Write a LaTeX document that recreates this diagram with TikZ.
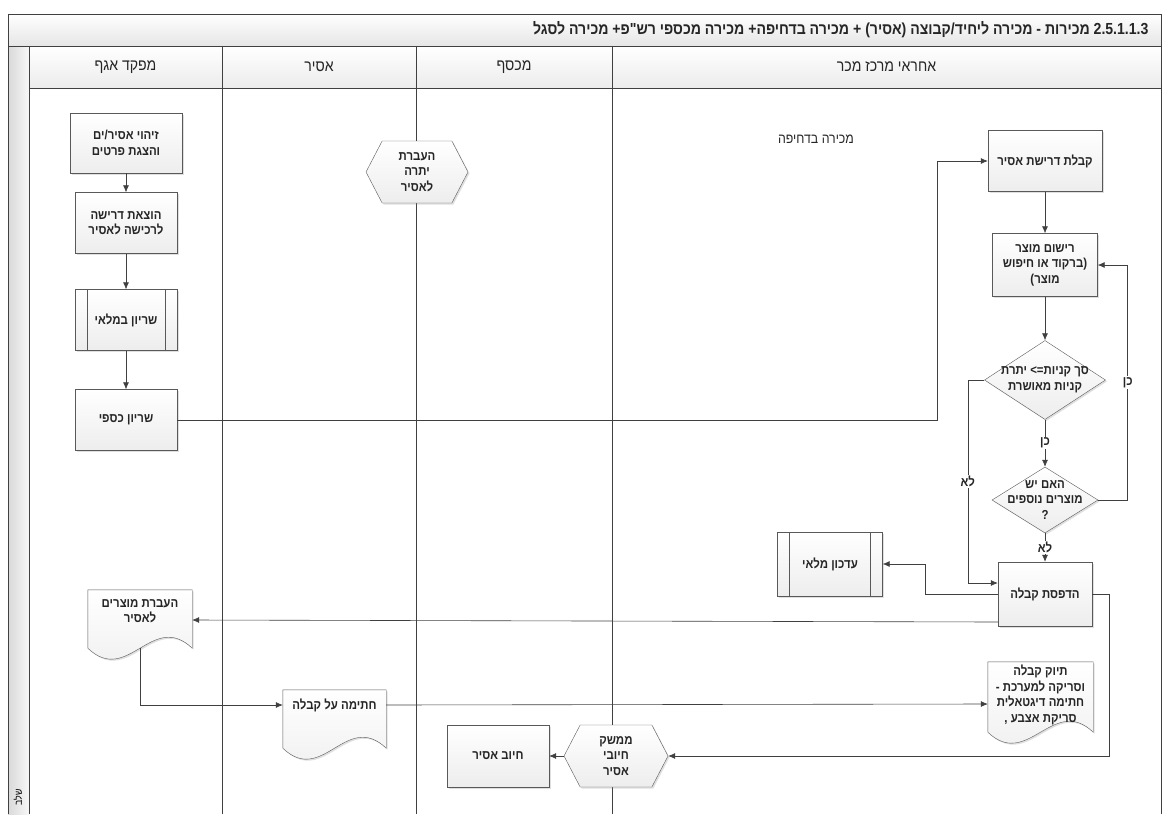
\documentclass[tikz,border=0pt]{standalone}
\usepackage{fontspec}
\setmainfont{Liberation Sans}
\newfontfamily\hebfont[Script=Hebrew,FakeStretch=0.88]{Liberation Sans}
\TeXXeTstate=1
\usetikzlibrary{shapes.geometric,shapes.symbols,arrows.meta,shadows,backgrounds}
\newcommand{\rl}[1]{\beginR #1\endR}
\newcommand{\boxfont}{\hebfont\bfseries\fontsize{13}{15.5}\selectfont}

\begin{document}
\begin{tikzpicture}[
	x=1pt, y=-1pt,
	frame/.style={ draw=black!75, line width=0.6pt },
	proc/.style={ rectangle, draw=gray!70!black, top color=white, bottom color=gray!14, drop shadow={opacity=0.25,shadow xshift=1.5pt,shadow yshift=-1.5pt}, minimum width=102pt, minimum height=61pt, inner sep=2pt, align=center, font=\boxfont, text=black!85 },
	predef/.style={ proc, path picture={ \draw[gray!70!black] ([xshift=12pt]path picture bounding box.north west) -- ([xshift=12pt]path picture bounding box.south west) ([xshift=-12pt]path picture bounding box.north east) -- ([xshift=-12pt]path picture bounding box.south east); } },
	hexa/.style={ signal, signal to=west and east, signal pointer angle=125, draw=gray!70!black, top color=white, bottom color=gray!14, drop shadow={opacity=0.25,shadow xshift=1.5pt,shadow yshift=-1.5pt}, minimum width=102pt, minimum height=62pt, inner sep=1pt, align=center, font=\boxfont, text=black!85 },
	cond/.style={ diamond, draw=gray!70!black, top color=white, bottom color=gray!14, drop shadow={opacity=0.25,shadow xshift=1.5pt,shadow yshift=-1.5pt}, inner sep=0pt },
	condtxt/.style={ align=center, font=\boxfont, text=black!85, inner sep=0pt },
	doc/.style={ minimum width=103pt, inner sep=1pt, align=center, font=\boxfont, text=black!85 },
	docline/.style={ draw=gray!70!black, top color=white, bottom color=gray!14, drop shadow={opacity=0.25,shadow xshift=1.5pt,shadow yshift=-1.5pt} },
	flow/.style={ draw=black!75, line width=0.6pt, -{Latex[length=7pt,width=6pt]} },
	lbl/.style={ fill=white, inner sep=1pt, font=\boxfont, text=black!85 },
	lane/.style={ font=\hebfont\fontsize{16}{18}\selectfont, text=black!85 }
]
\useasboundingbox (0,0) rectangle (1162,814);

\fill[top color=white, bottom color=gray!20] (8,14) rectangle (1161,46);
\fill[top color=white, bottom color=gray!15] (29,46) rectangle (1161,88);
\fill[left color=gray!30, right color=gray!6] (8,46) rectangle (29,814);
\draw[frame] (8,814) -- (8,14) -- (1161,14) -- (1161,814);
\draw[frame] (8,46) -- (1161,46);
\draw[frame] (29,88) -- (1161,88);
\foreach \x in {29,222,416,612} \draw[frame] (\x,46) -- (\x,814);

\node at (1152,30) (ttl) [anchor=east, font=\hebfont\bfseries\fontsize{16}{18}\selectfont, text=black!85] {\rl{\beginL 2.5.1.1.3\endL{} מכירות - מכירה ליחיד/קבוצה (אסיר) + מכירה בדחיפה+ מכירה מכספי רש"פ+ מכירה לסגל}};
\node at (125.5,67) (hq) [lane] {\rl{מפקד אגף}};
\node at (319,67) (hpr) [lane] {\rl{אסיר}};
\node at (514,67) (hcn) [lane] {\rl{מכסף}};
\node at (886.5,67) (hsh) [lane] {\rl{אחראי מרכז מכר}};
\node at (18,797) (phs) [rotate=90, font=\hebfont\fontsize{10}{12}\selectfont] {\rl{שלב}};

\node at (816,139) (urg) [font=\hebfont\fontsize{14}{16}\selectfont, text=black!85] {\rl{מכירה בדחיפה}};

\node at (126,143) (n1) [proc, minimum width=112pt, minimum height=60pt] {\rl{זיהוי אסיר/ים}\\\rl{והצגת פרטים}};

\node at (126,223) (n2) [proc] {\rl{הוצאת דרישה}\\\rl{לרכישה לאסיר}};
\draw[flow] (n1) to (n2);

\node at (126,320) (n3) [predef] {\rl{שריון במלאי}};
\draw[flow] (n2) to (n3);

\node at (126,420) (n4) [proc] {\rl{שריון כספי}};
\draw[flow] (n3) to (n4);

\node at (417,172) (h1) [hexa] {\rl{העברת}\\\rl{יתרה}\\\rl{לאסיר}};

\node at (1045,161) (n6) [proc, minimum width=114pt] {\rl{קבלת דרישת אסיר}};
\draw[flow] (n4.east) -| ([xshift=-51pt]n6.west) -- (n6.west);

\node at (1045,265) (n7) [proc, minimum width=105pt, minimum height=63pt] {\rl{רישום מוצר}\\\rl{(ברקוד או חיפוש}\\\rl{מוצר)}};
\draw[flow] (n6) to (n7);

\node at (1045,380) (d1) [cond, minimum width=121pt, minimum height=79pt, label={[condtxt]center:{\beginR סך קניות=> יתרת\endR\\\beginR קניות מאושרת\endR}}] {};
\draw[flow] (n7) to (d1);

\node at (1045,500) (d2) [cond, minimum width=106pt, minimum height=66pt, label={[condtxt]center:{\beginR האם יש\endR\\\beginR מוצרים נוספים\endR\\\beginR ?\endR}}] {};
\draw[flow] (d1) -- node[lbl] {\rl{כן}} (d2);
\draw[flow] (d2.east) -| node[lbl, pos=0.75] {\rl{כן}} ([xshift=30pt]n7.east) -- (n7.east);

\node at (1045,594) (n8) [proc, minimum width=94pt, minimum height=64pt] {\rl{הדפסת קבלה}};
\draw[flow] (d2) -- node[lbl] {\rl{לא}} (n8);
\draw[flow] (d1.west) -| node[lbl, pos=0.75] {\rl{לא}} ([xshift=-30pt,yshift=11pt]n8.west) -- ([yshift=11pt]n8.west);

\node at (830,564) (n9) [predef, minimum width=105pt, minimum height=64pt] {\rl{עדכון מלאי}};
\draw[flow] (n8.west) -| ([xshift=43pt]n9.east) -- (n9.east);

\node at (140,611) (n5) [doc, minimum width=104pt, minimum height=42pt] {\rl{העברת מוצרים}\\\rl{לאסיר}};
\draw[flow] ([yshift=-28pt]n8.west) -- ([yshift=-9pt]n5.east);

\node at (334.5,705) (n10) [doc, minimum height=30pt] {\rl{חתימה על קבלה}};
\draw[flow] ([yshift=-16pt]n5.south) |- (n10.west);

\node at (1040.5,695) (n12) [doc, minimum width=105pt, minimum height=66pt] {\rl{תיוק קבלה}\\\rl{וסריקה למערכת -}\\\rl{חתימה דיגטאלית}\\\rl{סריקת אצבע ,}};
\draw[flow] (n10.east) -- ([yshift=-9pt]n12.west);

\begin{scope}[on background layer]
\foreach \d/\h in {n5/16,n10/28,n12/4}
	\draw[docline] (\d.north west) -- (\d.north east) -- ([yshift=-\h pt]\d.south east) .. controls ([xshift=-40pt,yshift=-\h pt+38pt]\d.south east) and ([xshift=40pt,yshift=-\h pt-38pt]\d.south west) .. ([yshift=-\h pt]\d.south west) -- cycle;
\end{scope}

\node at (616,756) (h2) [hexa, minimum width=104pt] {\rl{ממשק}\\\rl{חיובי}\\\rl{אסיר}};
\draw[flow] (n8.east) -- ([xshift=17pt]n8.east) |- (h2.east);

\node at (498,756) (n11) [proc, minimum height=62pt] {\rl{חיוב אסיר}};
\draw[flow] (h2.west) -- (n11.east);

\end{tikzpicture}
\end{document}
